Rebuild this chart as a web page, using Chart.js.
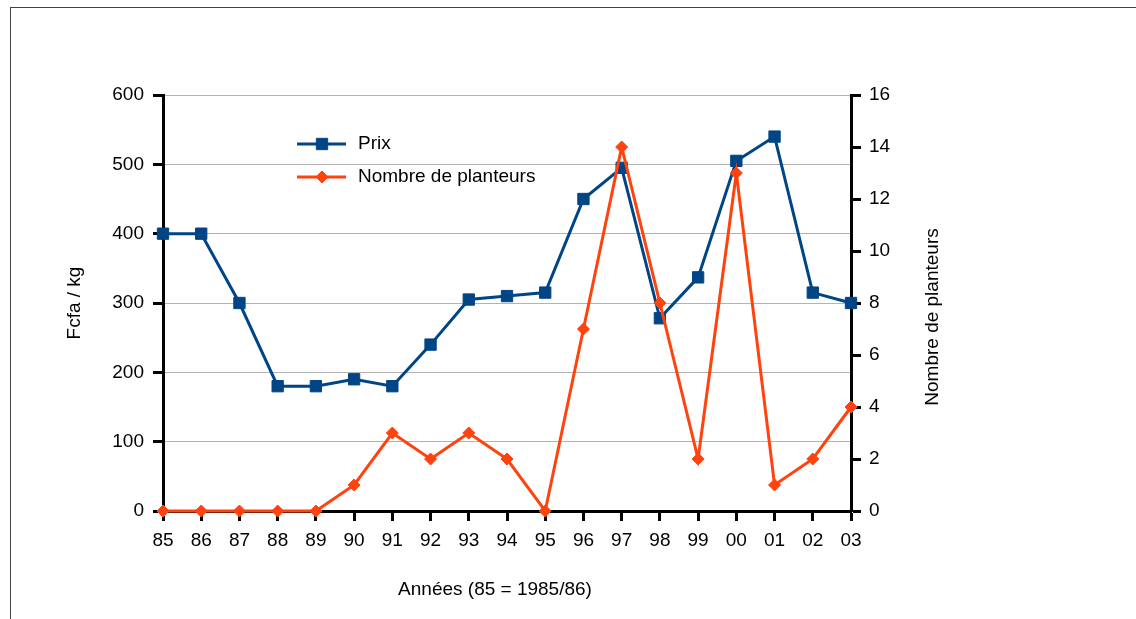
<!DOCTYPE html>
<html>
<head>
<meta charset="utf-8">
<script src="https://cdn.jsdelivr.net/npm/chart.js@4/dist/chart.umd.min.js"></script>
<style>
  html, body { margin: 0; padding: 0; background: #fff; }
  #wrap { width: 1136px; height: 619px; position: relative; }
</style>
</head>
<body>
<div id="wrap"><canvas id="chart"></canvas></div>
<script>
// Données
const annees = ['85', '86', '87', '88', '89', '90', '91', '92', '93', '94', '95', '96', '97', '98', '99', '00', '01', '02', '03'];
const prix = [400, 400, 300, 180, 180, 190, 180, 240, 305, 310, 315, 450, 495, 278, 337, 505, 540, 315, 300];
const planteurs = [0, 0, 0, 0, 0, 1, 3, 2, 3, 2, 0, 7, 14, 8, 2, 13, 1, 2, 4];
const ticksPrix = [0, 100, 200, 300, 400, 500, 600];
const ticksPlanteurs = [0, 2, 4, 6, 8, 10, 12, 14, 16];

const bleu = '#004586';
const orange = '#ff420e';
const police = 'Liberation Sans, Arial, sans-serif';
const taille = 19;

// Cadre, légende et titres des axes
const decor = {
    id: 'decor',
    beforeDraw(chart) {
        const ctx = chart.ctx;
        ctx.save();
        ctx.strokeStyle = '#444';
        ctx.lineWidth = 1;
        ctx.strokeRect(10.5, 7.5, 2000, 2000);
        ctx.restore();
    },
    afterDraw(chart) {
        const ctx = chart.ctx;
        ctx.save();
        ctx.font = taille + 'px ' + police;
        ctx.fillStyle = '#000';
        ctx.textBaseline = 'middle';

        // légende
        chart.data.datasets.forEach((ds, i) => {
            const y = 144 + i * 33;
            ctx.strokeStyle = ds.borderColor;
            ctx.lineWidth = 3;
            ctx.beginPath();
            ctx.moveTo(297, y);
            ctx.lineTo(346, y);
            ctx.stroke();
            ctx.fillStyle = ds.borderColor;
            ctx.strokeStyle = ds.borderColor;
            ctx.lineWidth = 1;
            Chart.helpers.drawPoint(ctx, {
                pointStyle: ds.pointStyle,
                radius: ds.pointRadius,
                borderWidth: 1,
                rotation: 0
            }, 322, y);
            ctx.fillStyle = '#000';
            ctx.textAlign = 'left';
            ctx.fillText(ds.label, 358, y);
        });

        // titres des axes
        ctx.textAlign = 'center';
        ctx.fillText('Années (85 = 1985/86)', 495, 590);
        ctx.save();
        ctx.translate(75, 303);
        ctx.rotate(-Math.PI / 2);
        ctx.fillText('Fcfa / kg', 0, 0);
        ctx.restore();
        ctx.save();
        ctx.translate(933, 317);
        ctx.rotate(-Math.PI / 2);
        ctx.fillText('Nombre de planteurs', 0, 0);
        ctx.restore();
        ctx.restore();
    }
};

const ctx = document.getElementById('chart').getContext('2d');
const chart = new Chart(ctx, {
    type: 'line',
    data: {
        labels: annees,
        datasets: [{
            label: 'Prix',
            data: prix,
            yAxisID: 'y',
            borderColor: bleu,
            backgroundColor: bleu,
            borderWidth: 3,
            pointStyle: 'rect',
            pointRadius: 8,
            pointBorderWidth: 1,
            tension: 0,
            clip: false,
            order: 1
        }, {
            label: 'Nombre de planteurs',
            data: planteurs,
            yAxisID: 'y1',
            borderColor: orange,
            backgroundColor: orange,
            borderWidth: 3,
            pointStyle: 'rectRot',
            pointRadius: 6,
            pointBorderWidth: 1,
            tension: 0,
            clip: false,
            order: 0
        }]
    },
    options: {
        responsive: true,
        maintainAspectRatio: false,
        animation: false,
        layout: { padding: { top: 95, left: 0, right: 0, bottom: 0 } },
        plugins: {
            legend: { display: false },
            tooltip: { enabled: false }
        },
        scales: {
            x: {
                offset: false,
                border: { color: '#000', width: 3 },
                grid: { drawOnChartArea: false, tickLength: 10, tickColor: '#000', tickWidth: 3 },
                ticks: { color: '#000', font: { family: police, size: taille }, padding: 8, autoSkip: false, maxRotation: 0 },
                afterFit(scale) { scale.height = 108; }
            },
            y: {
                position: 'left',
                min: 0,
                max: 600,
                border: { color: '#000', width: 3 },
                grid: { color: '#b3b3b3', lineWidth: 1, tickLength: 10, tickColor: '#000', tickWidth: 3 },
                afterBuildTicks(scale) { scale.ticks = ticksPrix.map(v => ({ value: v })); },
                ticks: { color: '#000', font: { family: police, size: taille }, padding: 9 },
                afterFit(scale) { scale.width = 163; }
            },
            y1: {
                position: 'right',
                min: 0,
                max: 16,
                border: { color: '#000', width: 3 },
                grid: { drawOnChartArea: false, tickLength: 10, tickColor: '#000', tickWidth: 3 },
                afterBuildTicks(scale) { scale.ticks = ticksPlanteurs.map(v => ({ value: v })); },
                ticks: { color: '#000', font: { family: police, size: taille }, padding: 8 },
                afterFit(scale) { scale.width = 285; }
            }
        }
    },
    plugins: [decor]
});
</script>
</body>
</html>
